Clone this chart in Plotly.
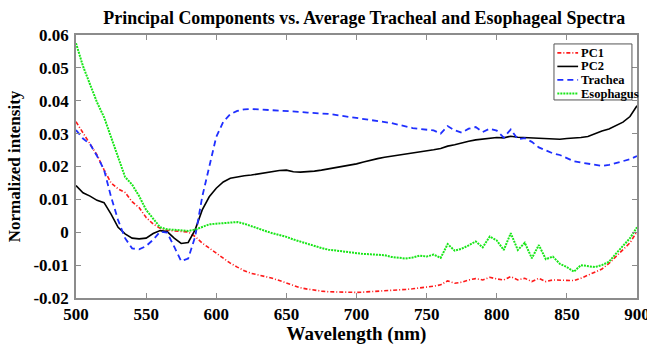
import plotly.graph_objects as go

wavelength = list(range(500, 905, 5))

pc1 = [0.0336, 0.0301, 0.0266, 0.0235, 0.0190, 0.0150, 0.0132, 0.0121, 0.0093, 0.0075,
       0.0045, 0.0025, 0.0012, 0.0006, 0.0004, 0.0003, 0.0001, -0.0013, -0.0033, -0.0048,
       -0.0063, -0.0080, -0.0094, -0.0106, -0.0117, -0.0125, -0.0130, -0.0134, -0.0140, -0.0147,
       -0.0155, -0.0162, -0.0169, -0.0173, -0.0177, -0.0179, -0.0181, -0.0182, -0.0183, -0.0183,
       -0.0183, -0.0182, -0.0181, -0.0180, -0.0178, -0.0177, -0.0175, -0.0174, -0.0172, -0.0170,
       -0.0167, -0.0164, -0.0160, -0.0148, -0.0155, -0.0152, -0.0145, -0.0141, -0.0145, -0.0137,
       -0.0142, -0.0145, -0.0135, -0.0145, -0.0140, -0.0150, -0.0140, -0.0150, -0.0145, -0.0146,
       -0.0147, -0.0147, -0.0140, -0.0130, -0.0122, -0.0112, -0.0095, -0.0074, -0.0054, -0.0032,
       0.0002]

pc2 = [0.0142, 0.0120, 0.0110, 0.0097, 0.0090, 0.0055, 0.0015, -0.0005, -0.0018, -0.0020,
       -0.0018, -0.0004, 0.0005, 0.0002, -0.0018, -0.0034, -0.0031, 0.0008, 0.0068, 0.0108,
       0.0134, 0.0153, 0.0164, 0.0169, 0.0172, 0.0174, 0.0178, 0.0182, 0.0184, 0.0188,
       0.0189, 0.0184, 0.0183, 0.0184, 0.0186, 0.0189, 0.0193, 0.0197, 0.0200, 0.0203,
       0.0208, 0.0214, 0.0220, 0.0224, 0.0228, 0.0231, 0.0235, 0.0238, 0.0241, 0.0245,
       0.0248, 0.0251, 0.0255, 0.0262, 0.0266, 0.0272, 0.0277, 0.0281, 0.0284, 0.0287,
       0.0288, 0.0287, 0.0292, 0.0289, 0.0288, 0.0288, 0.0288, 0.0287, 0.0285, 0.0283,
       0.0285, 0.0286, 0.0288, 0.0291, 0.0300, 0.0308, 0.0314, 0.0325, 0.0335, 0.0352,
       0.0385]

trachea = [0.0311, 0.0285, 0.0268, 0.0232, 0.0190, 0.0108, 0.0037, -0.0018, -0.0049, -0.0052,
           -0.0042, -0.0023, 0.0002, -0.0001, -0.0044, -0.0088, -0.0080, -0.0013, 0.0108, 0.0200,
           0.0290, 0.0336, 0.0359, 0.0369, 0.0374, 0.0375, 0.0374, 0.0372, 0.0372, 0.0371,
           0.0370, 0.0368, 0.0366, 0.0364, 0.0363, 0.0362, 0.0360, 0.0357, 0.0354, 0.0352,
           0.0348, 0.0345, 0.0342, 0.0338, 0.0335, 0.0332, 0.0327, 0.0321, 0.0317, 0.0314,
           0.0311, 0.0310, 0.0300, 0.0323, 0.0310, 0.0303, 0.0315, 0.0320, 0.0305, 0.0315,
           0.0309, 0.0288, 0.0313, 0.0283, 0.0286, 0.0275, 0.0258, 0.0250, 0.0240, 0.0235,
           0.0225, 0.0216, 0.0212, 0.0208, 0.0204, 0.0202, 0.0205, 0.0210, 0.0215, 0.0222,
           0.0232]

esophagus = [0.0575, 0.0505, 0.0450, 0.0395, 0.0350, 0.0290, 0.0225, 0.0168, 0.0145, 0.0110,
             0.0068, 0.0042, 0.0015, 0.0009, 0.0007, 0.0005, 0.0004, 0.0008, 0.0017, 0.0024,
             0.0026, 0.0028, 0.0029, 0.0031, 0.0026, 0.0018, 0.0010, 0.0004, -0.0003, -0.0008,
             -0.0014, -0.0022, -0.0029, -0.0036, -0.0043, -0.0048, -0.0053, -0.0056, -0.0058, -0.0060,
             -0.0064, -0.0066, -0.0067, -0.0068, -0.0070, -0.0075, -0.0078, -0.0080, -0.0077, -0.0071,
             -0.0074, -0.0068, -0.0078, -0.0036, -0.0056, -0.0050, -0.0040, -0.0028, -0.0046, -0.0013,
             -0.0025, -0.0054, -0.0003, -0.0054, -0.0032, -0.0079, -0.0039, -0.0082, -0.0074, -0.0096,
             -0.0106, -0.0120, -0.0100, -0.0104, -0.0106, -0.0100, -0.0090, -0.0065, -0.0042, -0.0018,
             0.0015]

series_names = ["PC1", "PC2", "Trachea", "Esophagus"]
x_ticks = [500, 550, 600, 650, 700, 750, 800, 850, 900]
y_ticks = [-0.02, -0.01, 0, 0.01, 0.02, 0.03, 0.04, 0.05, 0.06]
y_tick_text = ["-0.02", "-0.01", "0", "0.01", "0.02", "0.03", "0.04", "0.05", "0.06"]

serif = "Liberation Serif"

styles = [
    ("#ff1a1a", "4px,2px,1px,2px", 1.6),
    ("#000000", "solid", 1.6),
    ("#1f2fff", "6px,4px", 1.8),
    ("#19e619", "2px,1px", 2.0),
]
series_values = [pc1, pc2, trachea, esophagus]

fig = go.Figure()
for name, vals, (color, dash, w) in zip(series_names, series_values, styles):
    fig.add_trace(go.Scatter(x=wavelength, y=vals, mode="lines", name=name,
                             line=dict(color=color, dash=dash, width=w), showlegend=False))

# manual legend box (paper coordinates)
lx0, lx1, ly0, ly1 = 0.852, 0.991, 0.753, 0.966
fig.add_shape(type="rect", xref="paper", yref="paper", x0=lx0, x1=lx1, y0=ly0, y1=ly1,
              line=dict(color="#555555", width=1), fillcolor="white", layer="above")
row_step = 0.0515
for i, (name, (color, dash, w)) in enumerate(zip(series_names, styles)):
    yy = ly1 - 0.034 - i * row_step
    fig.add_shape(type="line", xref="paper", yref="paper", x0=lx0 + 0.006, x1=lx0 + 0.043,
                  y0=yy, y1=yy, line=dict(color=color, dash=dash, width=w), layer="above")
    fig.add_annotation(xref="paper", yref="paper", x=lx0 + 0.045, y=yy, text=name,
                       showarrow=False, xanchor="left", yanchor="middle",
                       font=dict(family=serif, size=12.5, color="black", weight="bold"))

axis_common = dict(showline=True, linecolor="#8c8c8c", linewidth=1.5, mirror="ticks",
                   ticks="inside", ticklen=5, tickcolor="#8c8c8c", showgrid=False,
                   zeroline=False, automargin=False, ticklabeloverflow="allow",
                   tickfont=dict(family=serif, size=17, color="black", weight="bold"))

fig.update_layout(
    width=647, height=345,
    margin=dict(l=76, r=10, t=35, b=47),
    paper_bgcolor="white", plot_bgcolor="white",
    font=dict(family=serif, color="black"),
    title=dict(text="Principal Components vs. Average Tracheal and Esophageal Spectra",
               x=0.563, xanchor="center", y=1 - 18 / 345, yanchor="middle", yref="container",
               font=dict(family=serif, size=17.9, color="black", weight="bold")),
    xaxis=dict(range=[500, 900], tickvals=x_ticks, ticktext=[str(v) for v in x_ticks],
               ticklabelstandoff=0,
               title=dict(text="Wavelength (nm)",
                          font=dict(family=serif, size=19, color="black", weight="bold"),
                          standoff=3),
               **axis_common),
    yaxis=dict(range=[-0.02, 0.06], tickvals=y_ticks, ticktext=y_tick_text,
               ticklabelstandoff=2,
               title=dict(text="Normalized intensity",
                          font=dict(family=serif, size=17, color="black", weight="bold"),
                          standoff=8),
               **axis_common),
    showlegend=False,
)

fig.write_html("out.html")
